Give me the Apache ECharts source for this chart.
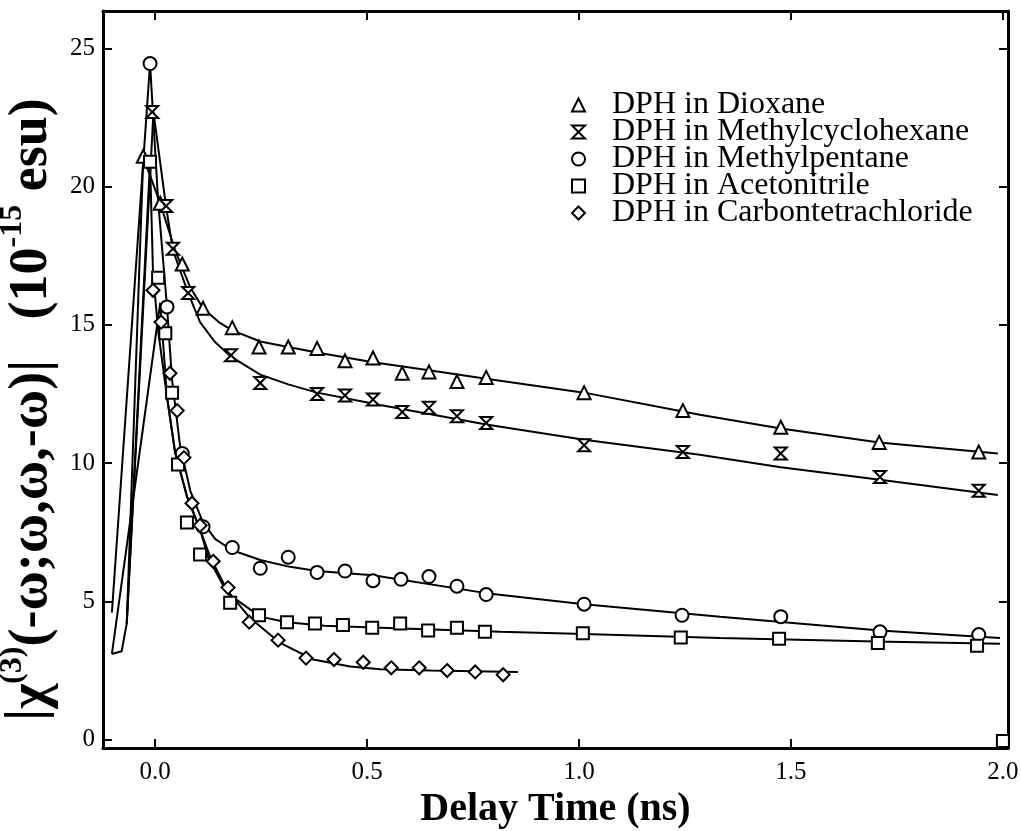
<!DOCTYPE html>
<html>
<head>
<meta charset="utf-8">
<script src="https://cdn.jsdelivr.net/npm/echarts@6/dist/echarts.min.js"></script>
<style>html,body{margin:0;padding:0;background:#fff;}#chart{width:1021px;height:831px;}</style>
</head>
<body>
<div id="chart"></div>
<script>
// ---------- data ----------
const seriesNames = [
  'DPH in Dioxane',
  'DPH in Methylcyclohexane',
  'DPH in Methylpentane',
  'DPH in Acetonitrile',
  'DPH in Carbontetrachloride'
];
const xTicks = [0, 0.5, 1.0, 1.5, 2.0];
const yTicks = [0, 5, 10, 15, 20, 25];

// measured points
const dioxaneX = [-0.028, 0.012, 0.064, 0.113, 0.182, 0.245, 0.314, 0.382, 0.448, 0.514, 0.583, 0.646, 0.712, 0.781, 1.012, 1.245, 1.476, 1.708, 1.943];
const dioxaneY = [21.1, 19.4, 17.2, 15.6, 14.9, 14.2, 14.2, 14.15, 13.7, 13.8, 13.25, 13.3, 12.95, 13.1, 12.55, 11.9, 11.3, 10.75, 10.4];
const mchX = [-0.007, 0.026, 0.042, 0.078, 0.179, 0.248, 0.382, 0.448, 0.514, 0.583, 0.646, 0.712, 0.781, 1.012, 1.245, 1.476, 1.71, 1.943];
const mchY = [22.7, 19.3, 17.75, 16.15, 13.9, 12.9, 12.5, 12.45, 12.3, 11.85, 12.0, 11.7, 11.45, 10.65, 10.4, 10.35, 9.5, 9.0];
const mpX = [-0.012, 0.028, 0.064, 0.113, 0.182, 0.248, 0.314, 0.382, 0.448, 0.514, 0.58, 0.646, 0.712, 0.781, 1.012, 1.243, 1.476, 1.71, 1.943];
const mpY = [24.45, 15.65, 10.35, 7.7, 6.95, 6.2, 6.6, 6.05, 6.1, 5.75, 5.8, 5.9, 5.55, 5.25, 4.9, 4.5, 4.45, 3.9, 3.8];
const acnX = [-0.012, 0.007, 0.024, 0.04, 0.054, 0.075, 0.106, 0.177, 0.245, 0.311, 0.377, 0.443, 0.512, 0.578, 0.644, 0.712, 0.778, 1.009, 1.24, 1.472, 1.705, 1.939, 2.0];
const acnY = [20.9, 16.7, 14.7, 12.55, 9.95, 7.85, 6.7, 4.95, 4.5, 4.25, 4.2, 4.15, 4.05, 4.2, 3.95, 4.05, 3.9, 3.85, 3.7, 3.65, 3.5, 3.4, -0.05];
const cclX = [-0.005, 0.014, 0.035, 0.052, 0.068, 0.087, 0.106, 0.137, 0.172, 0.222, 0.29, 0.356, 0.422, 0.491, 0.557, 0.623, 0.689, 0.755, 0.821];
const cclY = [16.25, 15.1, 13.25, 11.9, 10.2, 8.55, 7.75, 6.45, 5.5, 4.25, 3.6, 2.95, 2.9, 2.8, 2.6, 2.6, 2.5, 2.45, 2.35];

// traced fit / rise curves
const dioxaneFitX = [-0.067, -0.028, 0.012, 0.047, 0.083, 0.113, 0.15, 0.182, 0.248, 0.314, 0.382, 0.514, 0.65, 0.781, 1.012, 1.285, 1.476, 1.708, 1.988];
const dioxaneFitY = [4.2, 21.06, 19.4, 17.7, 16.35, 15.6, 15.1, 14.8, 14.4, 14.2, 14.0, 13.65, 13.35, 13.05, 12.55, 11.75, 11.25, 10.75, 10.35];
const mchFitX = [-0.102, -0.079, -0.067, -0.004, 0.026, 0.042, 0.078, 0.106, 0.14, 0.179, 0.248, 0.314, 0.382, 0.531, 0.781, 1.012, 1.285, 1.476, 1.71, 1.988];
const mchFitY = [3.1, 3.2, 4.2, 22.7, 19.25, 17.7, 16.15, 15.1, 14.4, 13.85, 13.2, 12.85, 12.55, 12.1, 11.4, 10.85, 10.3, 9.85, 9.4, 8.85];
const mpFitX = [-0.102, -0.012, 0.007, 0.028, 0.04, 0.059, 0.083, 0.113, 0.142, 0.182, 0.248, 0.318, 0.382, 0.514, 0.781, 1.012, 1.333, 1.71, 1.993];
const mpFitY = [4.6, 24.45, 19.5, 15.65, 13.0, 10.6, 9.0, 7.85, 7.25, 6.85, 6.5, 6.25, 6.1, 5.95, 5.3, 4.9, 4.45, 3.95, 3.68];
const acnFitX = [-0.067, -0.012, -0.005, 0.007, 0.028, 0.047, 0.075, 0.106, 0.125, 0.17, 0.248, 0.311, 0.4, 0.531, 0.814, 1.012, 1.333, 1.7, 1.993];
const acnFitY = [4.2, 20.9, 16.9, 14.8, 12.4, 10.4, 8.8, 7.6, 6.6, 5.3, 4.45, 4.25, 4.12, 4.05, 3.9, 3.82, 3.68, 3.55, 3.47];
const cclFitX = [-0.102, 0.012, 0.028, 0.047, 0.075, 0.106, 0.13, 0.17, 0.224, 0.295, 0.373, 0.46, 0.531, 0.65, 0.856];
const cclFitY = [3.1, 15.8, 12.4, 10.4, 8.8, 7.6, 6.6, 5.4, 4.4, 3.5, 2.9, 2.65, 2.55, 2.5, 2.45];

// ---------- build ----------
const zip = (xs, ys) => xs.map((x, i) => [x, ys[i]]);
const hourglass = 'path://M0,0 L10,0 L0,10 L10,10 Z';
const symbols = ['triangle', hourglass, 'circle', 'rect', 'diamond'];
const symbolSizes = [13, 12, 13, 12, 13];
const pts = [zip(dioxaneX, dioxaneY), zip(mchX, mchY), zip(mpX, mpY), zip(acnX, acnY), zip(cclX, cclY)];
const fits = [zip(dioxaneFitX, dioxaneFitY), zip(mchFitX, mchFitY), zip(mpFitX, mpFitY), zip(acnFitX, acnFitY), zip(cclFitX, cclFitY)];

const serif = 'Liberation Serif';
const series = [];
fits.forEach((d, i) => {
  series.push({
    type: 'line', name: 'fit' + i, data: d, showSymbol: false, silent: true,
    lineStyle: { color: '#000', width: 2 }, z: 2, animation: false
  });
});
pts.forEach((d, i) => {
  series.push({
    type: 'scatter', name: seriesNames[i], data: d, symbol: symbols[i], symbolSize: symbolSizes[i],
    itemStyle: { color: '#fff', borderColor: '#000', borderWidth: 2, opacity: 1 }, z: 3, animation: false
  });
});

const axisLineStyle = { onZero: false, lineStyle: { color: '#000', width: 3 } };
const tickStyle = (vals) => ({ inside: true, length: 9, customValues: vals, lineStyle: { color: '#000', width: 2 } });

const chart = echarts.init(document.getElementById('chart'));
chart.setOption({
  backgroundColor: '#fff',
  animation: false,
  grid: { left: 103, right: 13, top: 11, bottom: 83, containLabel: false, outerBoundsMode: 'none' },
  legend: {
    data: seriesNames, orient: 'vertical', left: 566, top: 84, itemGap: -5,
    itemWidth: 13, itemHeight: 13, selectedMode: false,
    itemStyle: { color: '#fff', borderColor: '#000', borderWidth: 2, opacity: 1 },
    textStyle: { fontFamily: serif, fontSize: 32, color: '#000', lineHeight: 27, padding: [0, 0, 0, 22] }
  },
  xAxis: [{
    type: 'value', min: -0.123, max: 2.012, position: 'bottom',
    axisLine: axisLineStyle, axisTick: tickStyle(xTicks), splitLine: { show: false },
    axisLabel: { customValues: xTicks, formatter: v => v.toFixed(1), fontFamily: serif, fontSize: 25, color: '#000', margin: 12 },
    name: 'Delay Time (ns)', nameLocation: 'middle', nameGap: 32,
    nameTextStyle: { fontFamily: serif, fontSize: 40, fontWeight: 'bold', color: '#000' }
  }, {
    type: 'value', min: -0.123, max: 2.012, position: 'top',
    axisLine: axisLineStyle, axisTick: tickStyle(xTicks), axisLabel: { show: false }, splitLine: { show: false }
  }],
  yAxis: [{
    type: 'value', min: -0.3, max: 26.35, position: 'left',
    axisLine: axisLineStyle, axisTick: tickStyle(yTicks), splitLine: { show: false },
    axisLabel: { customValues: yTicks, fontFamily: serif, fontSize: 25, color: '#000', margin: 8 },
    name: '|{b|χ}{sup|(3)}{b|(-ω;ω,ω,-ω)|   (10}{sup|-15}{b| esu)}', nameLocation: 'middle', nameRotate: 90, nameGap: 43,
    nameTextStyle: {
      fontFamily: serif, fontSize: 54, fontWeight: 'bold', color: '#000', padding: [0, 60, 0, 0],
      rich: {
        b: { fontFamily: serif, fontSize: 54, fontWeight: 'bold', color: '#000', verticalAlign: 'bottom', lineHeight: 62 },
        sup: { fontFamily: serif, fontSize: 32, fontWeight: 'bold', color: '#000', verticalAlign: 'top', lineHeight: 62 }
      }
    }
  }, {
    type: 'value', min: -0.3, max: 26.35, position: 'right',
    axisLine: axisLineStyle, axisTick: tickStyle(yTicks), axisLabel: { show: false }, splitLine: { show: false }
  }],
  series: series
});
</script>
</body>
</html>
